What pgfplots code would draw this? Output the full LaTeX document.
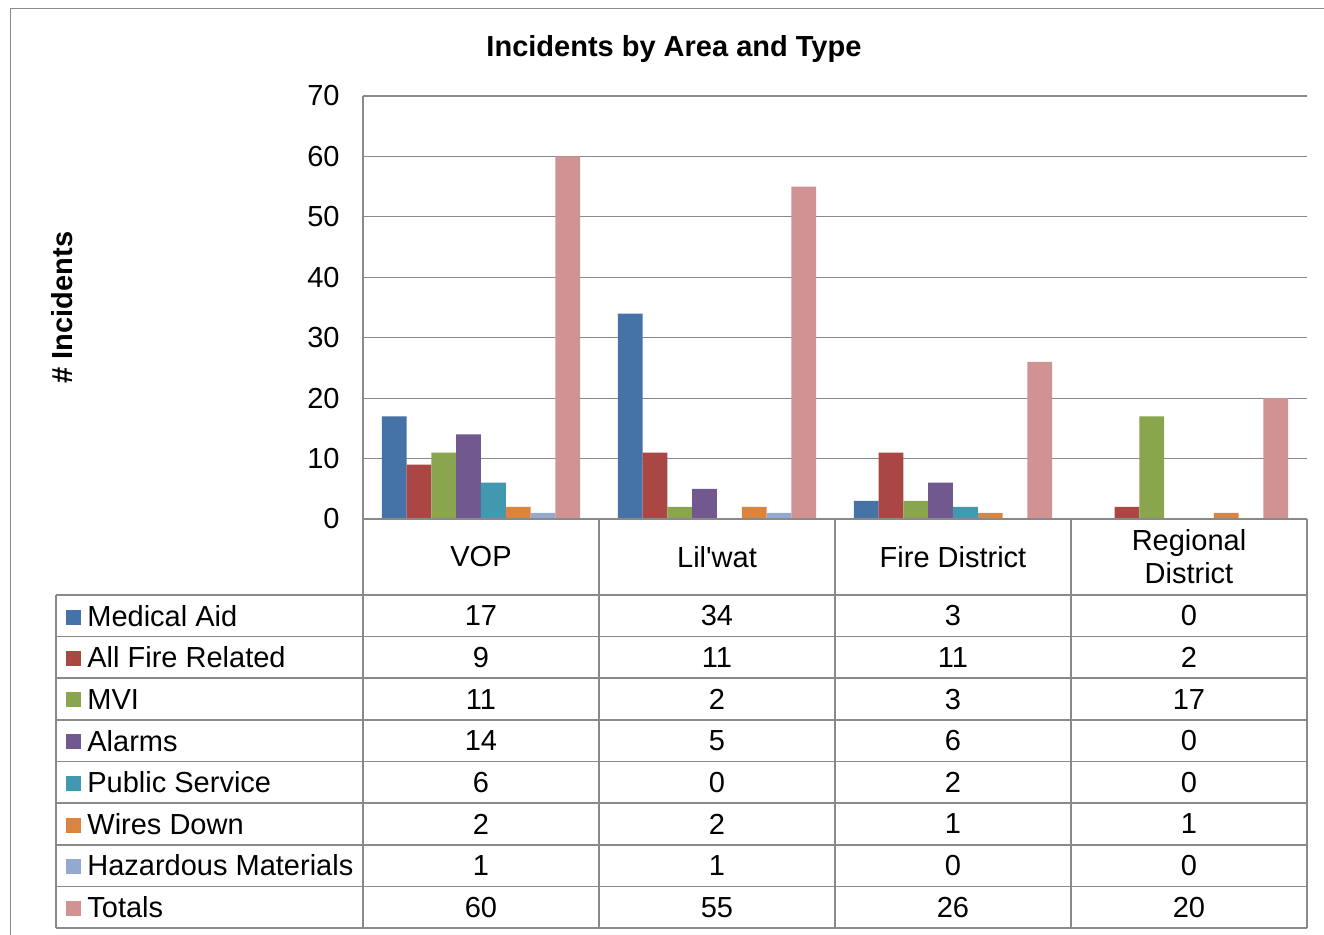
\documentclass[border=0pt]{standalone}
\usepackage{pgfplots}
\pgfplotsset{compat=1.18}
\usepackage{pgfplotstable}
\usepackage{fontspec}
\setmainfont{Liberation Sans}
\definecolor{gridc}{HTML}{898989}
\definecolor{c1}{HTML}{4572A7}
\definecolor{c2}{HTML}{AA4643}
\definecolor{c3}{HTML}{89A54E}
\definecolor{c4}{HTML}{71588F}
\definecolor{c5}{HTML}{4198AF}
\definecolor{c6}{HTML}{DB843D}
\definecolor{c7}{HTML}{93A9CF}
\definecolor{c8}{HTML}{D09293}
\newcommand{\myfont}{\fontsize{14.5}{16.5}\selectfont}
\newcommand{\key}[1]{\textcolor{#1}{\rule[0.8pt]{7.5pt}{7.5pt}}\hspace{3pt}}
\pgfplotstableread{
idx med fire mvi alarms pub wires haz tot
0 17 9 11 14 6 2 1 60
1 34 11 2 5 0 2 1 55
2 3 11 3 6 2 1 0 26
3 0 2 17 0 0 1 0 20
}\data
\begin{document}
\begin{tikzpicture}
\path[use as bounding box] (0,0) rectangle (662pt,-467.5pt);
\begin{axis}[
  at={(181.5pt,-259.5pt)}, anchor=south west,
  scale only axis, width=472pt, height=211.5pt,
  ybar=0pt, bar width=12.4pt,
  xmin=-0.5, xmax=3.5, ymin=0, ymax=70,
  xtick={0,1,2,3},
  xticklabels={VOP, Lil\textquotesingle wat, Fire District, {Regional\\District}},
  ytick={0,10,...,70},
  axis lines=left,
  axis line style={-, draw=gridc, line width=0.75pt},
  tick style={draw=none},
  major tick length=0pt,
  ymajorgrids,
  grid style={draw=gridc, line width=0.6pt},
  /pgf/number format/assume math mode=true,
  tick label style={font=\myfont},
  xticklabel style={anchor=center, yshift=-19pt, align=center},
  yticklabel style={xshift=-8.2pt},
  title={Incidents by Area and Type},
  title style={at={(axis description cs:0.3294,1.0825)}, anchor=center, font=\bfseries\myfont},
  ylabel={\# Incidents},
  every axis y label/.style={at={(axis description cs:-0.319,0.5)}, rotate=90, anchor=center, font=\bfseries\myfont},
]
\addplot[fill=c1, draw=none] table[x=idx,y=med]{\data};
\addplot[fill=c2, draw=none] table[x=idx,y=fire]{\data};
\addplot[fill=c3, draw=none] table[x=idx,y=mvi]{\data};
\addplot[fill=c4, draw=none] table[x=idx,y=alarms]{\data};
\addplot[fill=c5, draw=none] table[x=idx,y=pub]{\data};
\addplot[fill=c6, draw=none] table[x=idx,y=wires]{\data};
\addplot[fill=c7, draw=none] table[x=idx,y=haz]{\data};
\addplot[fill=c8, draw=none] table[x=idx,y=tot]{\data};
\end{axis}
\begin{axis}[
  at={(181.5pt,-297.5pt)}, anchor=north west,
  scale only axis, width=472pt, height=166.5pt,
  xmin=-0.5, xmax=3.5, ymin=0.5, ymax=8.5, y dir=reverse,
  xtick=\empty, ytick={1,...,8},
  yticklabels={\key{c1}Medical Aid, \key{c2}All Fire Related, \key{c3}MVI, \key{c4}Alarms, \key{c5}Public Service, \key{c6}Wires Down, \key{c7}Hazardous Materials, \key{c8}Totals},
  axis line style={draw=none}, tick style={draw=none}, major tick length=0pt,
  tick label style={font=\myfont},
  yticklabel style={anchor=west, inner sep=0pt, xshift=-148.5pt},
  nodes near coords, point meta=explicit,
  every node near coord/.append style={anchor=center, font=\myfont},
  /pgf/number format/assume math mode=true,
  clip=false,
]
\addplot[draw=none, mark=none] table[x=idx, y expr=1, meta=med]{\data};
\addplot[draw=none, mark=none] table[x=idx, y expr=2, meta=fire]{\data};
\addplot[draw=none, mark=none] table[x=idx, y expr=3, meta=mvi]{\data};
\addplot[draw=none, mark=none] table[x=idx, y expr=4, meta=alarms]{\data};
\addplot[draw=none, mark=none] table[x=idx, y expr=5, meta=pub]{\data};
\addplot[draw=none, mark=none] table[x=idx, y expr=6, meta=wires]{\data};
\addplot[draw=none, mark=none] table[x=idx, y expr=7, meta=haz]{\data};
\addplot[draw=none, mark=none] table[x=idx, y expr=8, meta=tot]{\data};
\end{axis}
\begin{scope}[x=0.5pt, y=-0.5pt, draw=gridc, line width=0.75pt]
\draw (10.5,960) -- (10.5,8.5) -- (1340,8.5);
\foreach \yy in {595,636.625,678.25,719.875,761.5,803.125,844.75,886.375,928}
  \draw (56,\yy) -- (1307,\yy);
\draw (56,595) -- (56,928);
\foreach \xx in {363,599,835,1071,1307}
  \draw (\xx,519) -- (\xx,928);
\draw (363,519) -- (1307,519);
\end{scope}
\end{tikzpicture}
\end{document}
